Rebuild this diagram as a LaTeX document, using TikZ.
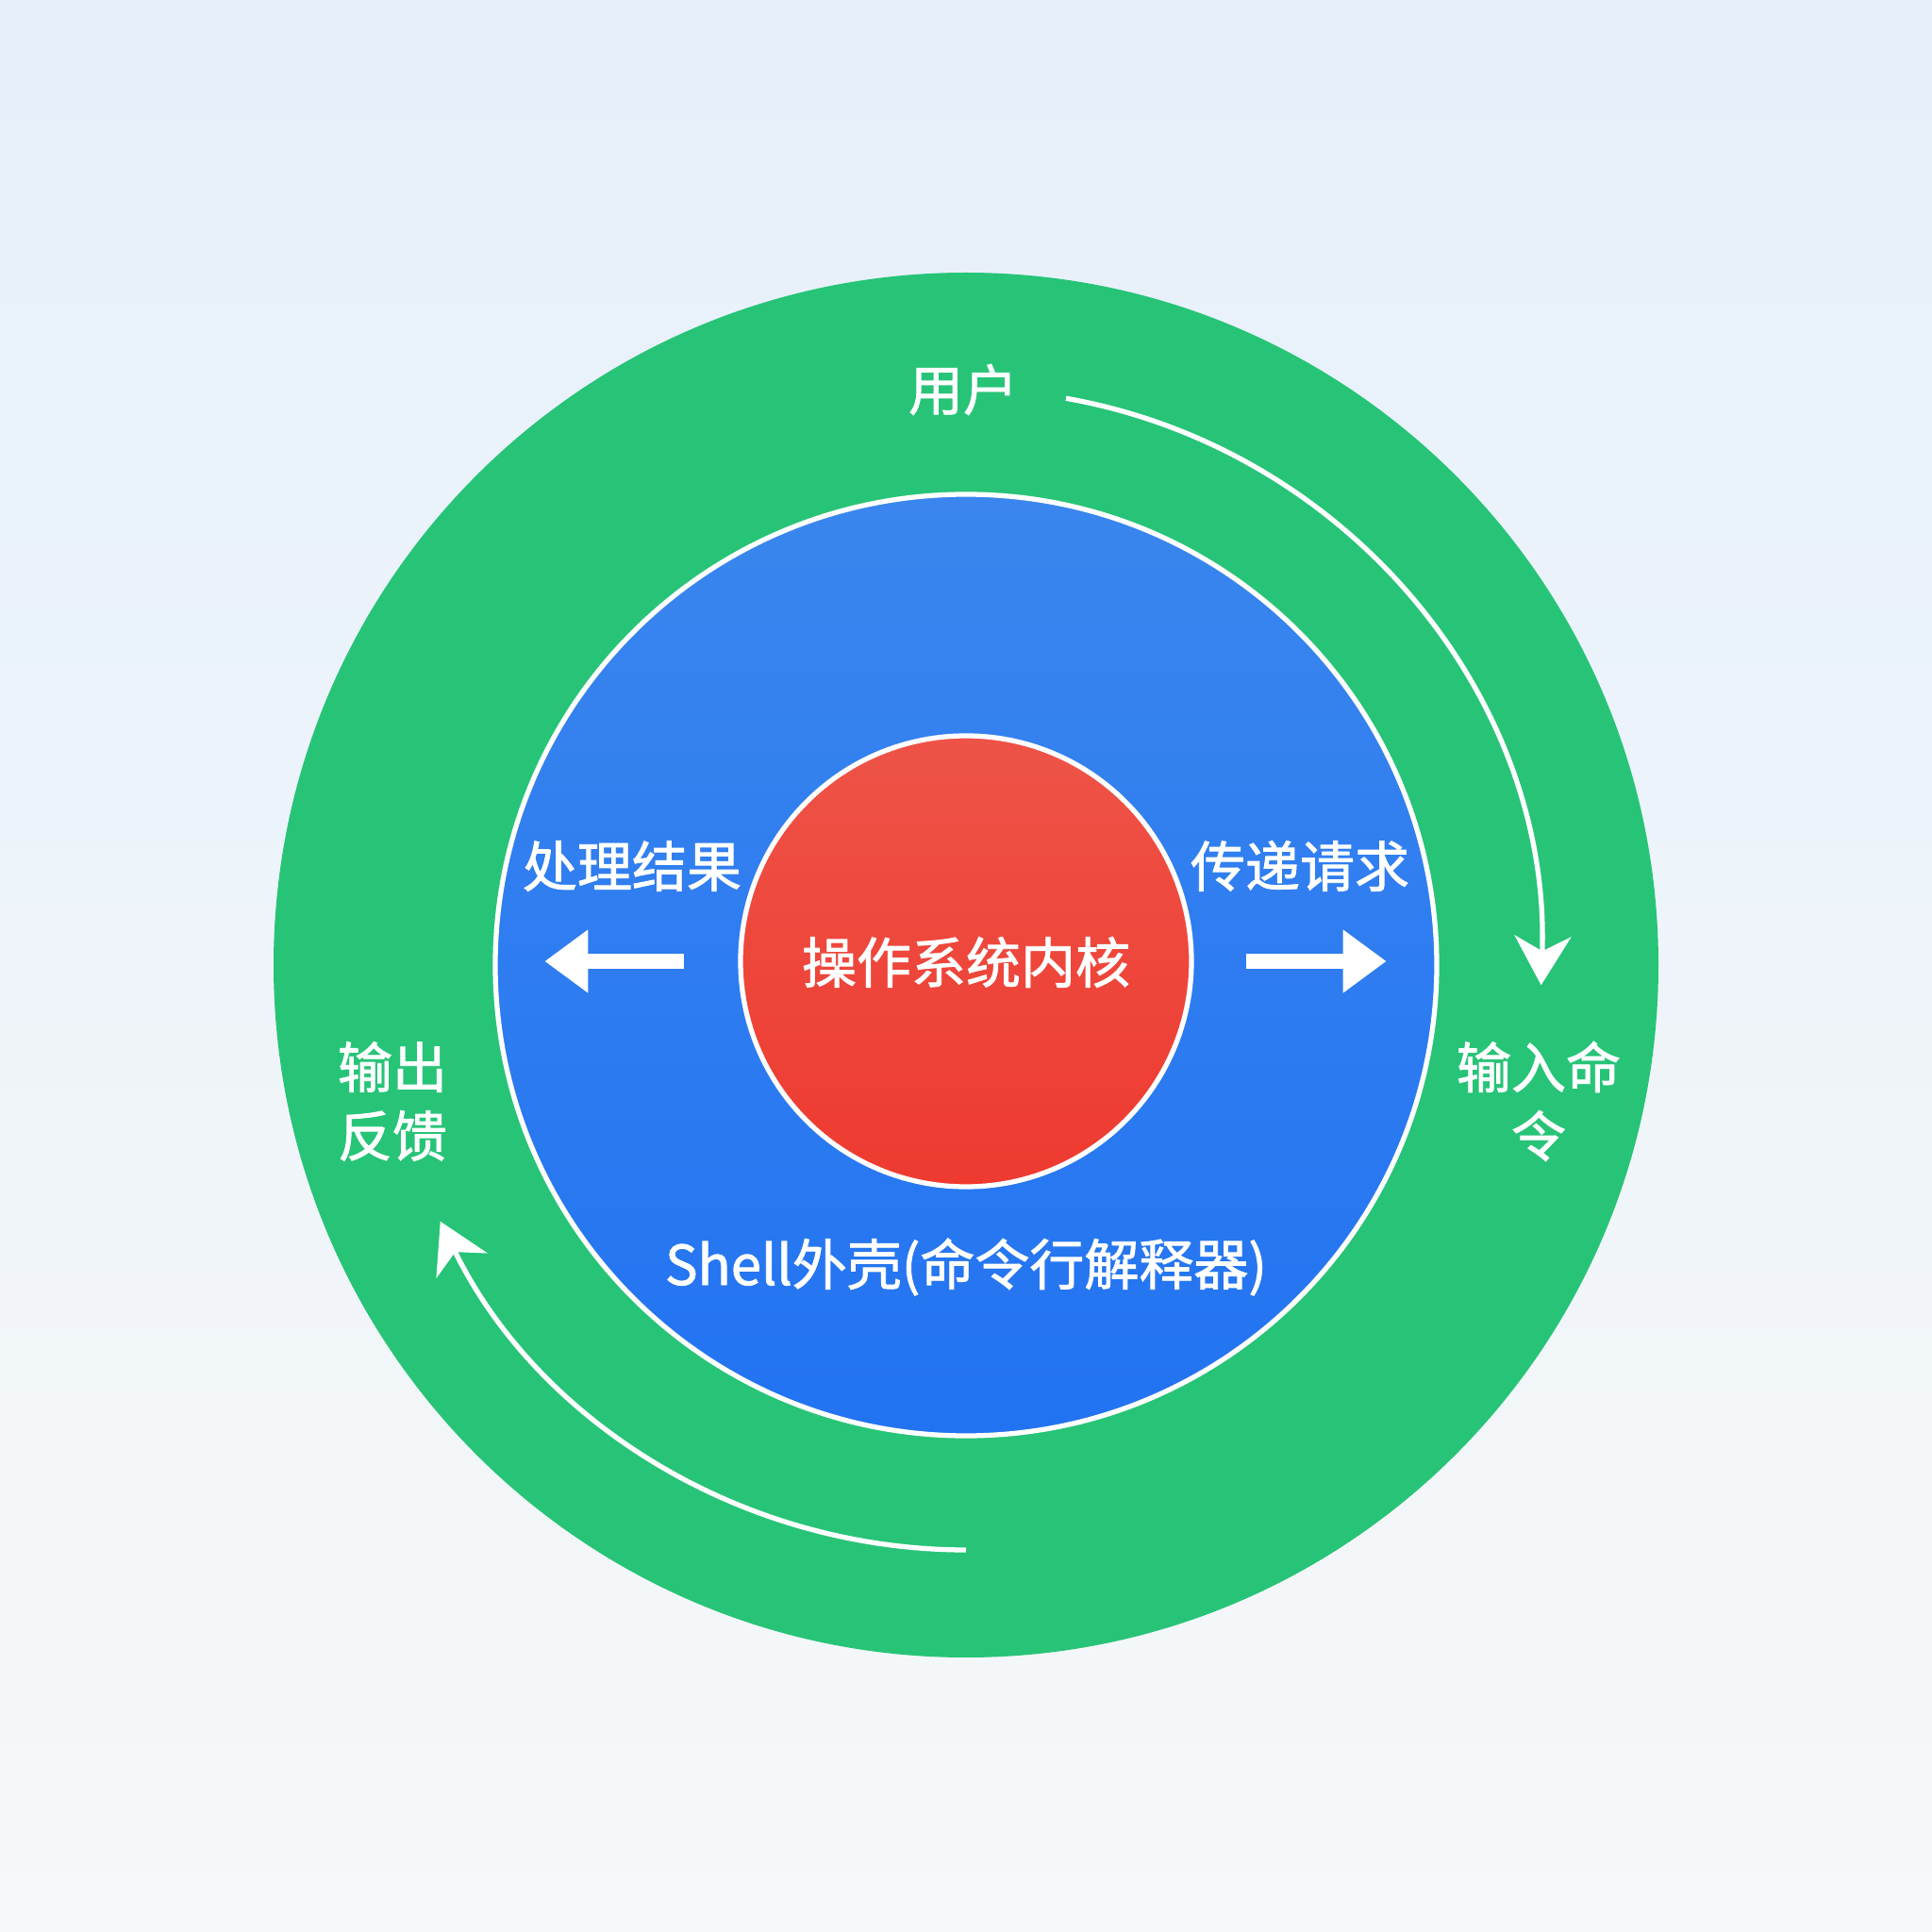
\documentclass[tikz,border=0pt]{standalone}
\usepackage{fontspec}
\setmainfont{Noto Sans CJK SC}
\newfontfamily\lblfont{Noto Sans CJK SC}[UprightFeatures={FakeBold=1.5}]
\usetikzlibrary{arrows.meta}
\definecolor{bgtop}{HTML}{E6F0FA}
\definecolor{bgbot}{HTML}{F6F8F9}
\definecolor{ringgreen}{HTML}{27C477}
\definecolor{shelltop}{HTML}{3A86EE}
\definecolor{shellbot}{HTML}{2273F2}
\definecolor{kerneltop}{HTML}{EE5347}
\definecolor{kernelbot}{HTML}{EE3A30}
\tikzset{
  txt/.style={text=white, font=\lblfont\fontsize{16.5pt}{20pt}\selectfont, inner sep=0pt},
  flow/.style={draw=white, line width=1.5pt, -{Stealth[length=0.52cm,width=0.6cm,inset=0.16cm]}},
  push/.style={draw=white, line width=0.16cm, -{Triangle[length=0.46cm,width=0.64cm]}},
  disc/.style={circle, inner sep=0pt},
}
\begin{document}
\begin{tikzpicture}
\shade[top color=bgtop, bottom color=bgbot] (0,0) rectangle (20.48,20.48);
\useasboundingbox (0,0) rectangle (20.48,20.48);
\coordinate (C) at (10.24,10.25);
\node (ring) [disc, fill=ringgreen, minimum size=14.68cm] at (C) {};
\node (shell) [disc, draw=white, line width=1.5pt, top color=shelltop, bottom color=shellbot, minimum size=9.98cm] at (C) {};
\node (kernel) [disc, draw=white, line width=1.5pt, top color=kerneltop, bottom color=kernelbot, minimum size=4.78cm] at (10.24,10.29) {};

\node[txt] (user) at (10.21,16.35) {用户};
\node[txt] (pass) at (13.78,11.30) {传递请求};
\node[txt] (result) at (6.70,11.30) {处理结果};
\node[txt] (kernellbl) at (10.24,10.28) {操作系统内核};
\node[txt] (shelllbl) at (10.24,7.05) {Shell外壳(命令行解释器)};
\node[txt] (in1) at (16.31,9.17) {输入命};
\node[txt] (in2) at (16.31,8.44) {令};
\node[txt] (out1) at (4.16,9.17) {输出};
\node[txt] (out2) at (4.16,8.44) {反馈};

\draw[flow] (C) ++(80:6.1) arc[start angle=80, end angle=-2, radius=6.1];
\draw[flow] (C) ++(-90:6.2) arc[start angle=-90, end angle=-154, radius=6.2];

\draw[push] ([xshift=0.55cm]kernel.east) -- ++(1.49,0);
\draw[push] ([xshift=-0.57cm]kernel.west) -- ++(-1.48,0);
\end{tikzpicture}
\end{document}
